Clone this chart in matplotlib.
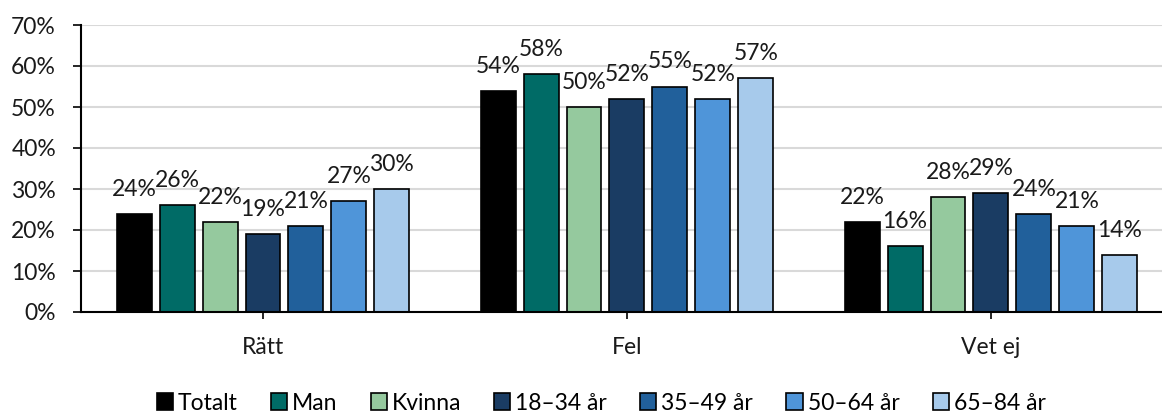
import matplotlib
matplotlib.use("Agg")
import matplotlib.pyplot as plt
import numpy as np
from matplotlib.ticker import PercentFormatter

categories = ["Rätt", "Fel", "Vet ej"]
series_names = ["Totalt", "Man", "Kvinna", "18–34 år", "35–49 år", "50–64 år", "65–84 år"]
totalt = [24, 54, 22]
man = [26, 58, 16]
kvinna = [22, 50, 28]
a18_34 = [19, 52, 29]
a35_49 = [21, 55, 24]
a50_64 = [27, 52, 21]
a65_84 = [30, 57, 14]
values = [totalt, man, kvinna, a18_34, a35_49, a50_64, a65_84]
colors = ["#000000", "#006B66", "#95C99E", "#1A3C63", "#21609B", "#4F95D9", "#A7CAEB"]

FS = 16.5
plt.rcParams['font.family'] = ['Lato', 'DejaVu Sans']
fig = plt.figure(figsize=(11.62, 4.12), dpi=100)
ax = fig.add_axes([81/1162, 100/412, 1 - 81/1162, 287/412])

x = np.arange(len(categories))
step = 0.118
width = 0.096
n = len(values)
handles = []
for i, (vals, c, name) in enumerate(zip(values, colors, series_names)):
    pos = x + (i - (n - 1) / 2) * step
    bars = ax.bar(pos, vals, width=width, color=c, edgecolor="black", linewidth=1.2,
                  label=name, zorder=3)
    handles.append(bars)
    for xp, v in zip(pos, vals):
        ax.annotate(f"{v}%", (xp, v), xytext=(0, 13), textcoords="offset points",
                    ha="center", va="baseline", fontsize=FS, color="#1a1a1a", zorder=4)

ax.set_xlim(-0.5, 2.47)
ax.set_ylim(0, 70)
ax.set_yticks(np.arange(0, 71, 10))
ax.yaxis.set_major_formatter(PercentFormatter(decimals=0))
ax.set_xticks(x)
ax.set_xticklabels(categories)
ax.tick_params(axis="both", labelsize=FS, colors="#1a1a1a")
ax.tick_params(axis="y", length=6, width=1.2, color="black", pad=12)
ax.tick_params(axis="x", length=5, width=1.2, color="black", pad=13)
ax.grid(axis="y", color="#D9D9D9", linewidth=1.5, zorder=0)
for s in ["top", "right"]:
    ax.spines[s].set_visible(False)
for s in ["left", "bottom"]:
    ax.spines[s].set_color("black")
    ax.spines[s].set_linewidth(1.5)
    ax.spines[s].set_zorder(5)

fig.legend(handles=handles, labels=series_names, loc="center", bbox_to_anchor=(601/1162, 9/412),
           ncol=7, frameon=False, fontsize=FS, handlelength=0.7, handleheight=0.7,
           handletextpad=0.22, columnspacing=1.45, borderpad=0.1)

fig.savefig("out.png", dpi=100)
